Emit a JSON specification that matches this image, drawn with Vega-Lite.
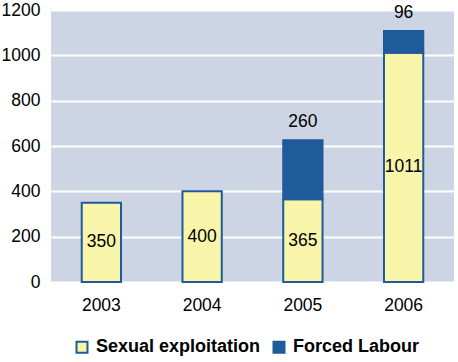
{
  "$schema": "https://vega.github.io/schema/vega-lite/v6.json",
  "width": 403,
  "height": 272,
  "autosize": "none",
  "padding": {"left": 51, "top": 10, "right": 4, "bottom": 80},
  "background": "#ffffff",
  "config": {
    "font": "Liberation Sans",
    "view": {"fill": "#CDD5E4", "stroke": null}
  },
  "data": {
    "values": [
      {"year": "2003", "category": "Sexual exploitation", "value": 350},
      {"year": "2004", "category": "Sexual exploitation", "value": 400},
      {"year": "2005", "category": "Sexual exploitation", "value": 365},
      {"year": "2005", "category": "Forced Labour", "value": 260},
      {"year": "2006", "category": "Sexual exploitation", "value": 1011},
      {"year": "2006", "category": "Forced Labour", "value": 96}
    ]
  },
  "encoding": {
    "x": {
      "field": "year",
      "type": "nominal",
      "scale": {"paddingInner": 0.61, "paddingOuter": 0.305},
      "axis": {
        "title": null,
        "labelAngle": 0,
        "labelFontSize": 17.5,
        "labelColor": "#000000",
        "labelPadding": 14,
        "ticks": false,
        "domain": false,
        "grid": false
      }
    }
  },
  "layer": [
    {
      "mark": {"type": "bar", "stroke": "#1F5A9A", "strokeWidth": 2},
      "encoding": {
        "y": {
          "field": "value",
          "type": "quantitative",
          "stack": "zero",
          "scale": {"domain": [0, 1200], "nice": false},
          "axis": {
            "title": null,
            "values": [0, 200, 400, 600, 800, 1000, 1200],
            "format": "d",
            "labelFontSize": 17.5,
            "labelColor": "#000000",
            "labelPadding": 11,
            "ticks": false,
            "domain": false,
            "grid": true,
            "gridColor": "#FFFFFF",
            "gridWidth": 2
          }
        },
        "color": {
          "field": "category",
          "type": "nominal",
          "scale": {
            "domain": ["Sexual exploitation", "Forced Labour"],
            "range": ["#F8F5AA", "#1F5A9A"]
          },
          "legend": {
            "title": null,
            "orient": "none",
            "direction": "horizontal",
            "legendX": 22,
            "legendY": 328,
            "symbolType": "square",
            "symbolSize": 121,
            "symbolStrokeColor": "#1F5A9A",
            "symbolStrokeWidth": 2,
            "labelFontSize": 18,
            "labelFontWeight": "bold",
            "labelColor": "#000000",
            "labelOffset": 5,
            "labelLimit": 300,
            "columnPadding": 8
          }
        },
        "order": {"field": "category", "sort": "descending"}
      }
    },
    {
      "transform": [
        {"filter": "datum.category === 'Sexual exploitation'"},
        {"calculate": "datum.value / 2", "as": "mid"}
      ],
      "mark": {"type": "text", "fontSize": 17.5, "color": "#000000", "baseline": "middle"},
      "encoding": {
        "y": {"field": "mid", "type": "quantitative"},
        "text": {"field": "value", "type": "quantitative"}
      }
    },
    {
      "mark": {"type": "text", "fontSize": 17.5, "color": "#000000", "baseline": "bottom", "dy": -9},
      "encoding": {
        "y": {"field": "value", "type": "quantitative", "stack": "zero"},
        "detail": {"field": "category"},
        "order": {"field": "category", "sort": "descending"},
        "text": {
          "condition": {"test": "datum.category === 'Forced Labour'", "field": "value", "type": "quantitative"},
          "value": ""
        }
      }
    }
  ]
}
